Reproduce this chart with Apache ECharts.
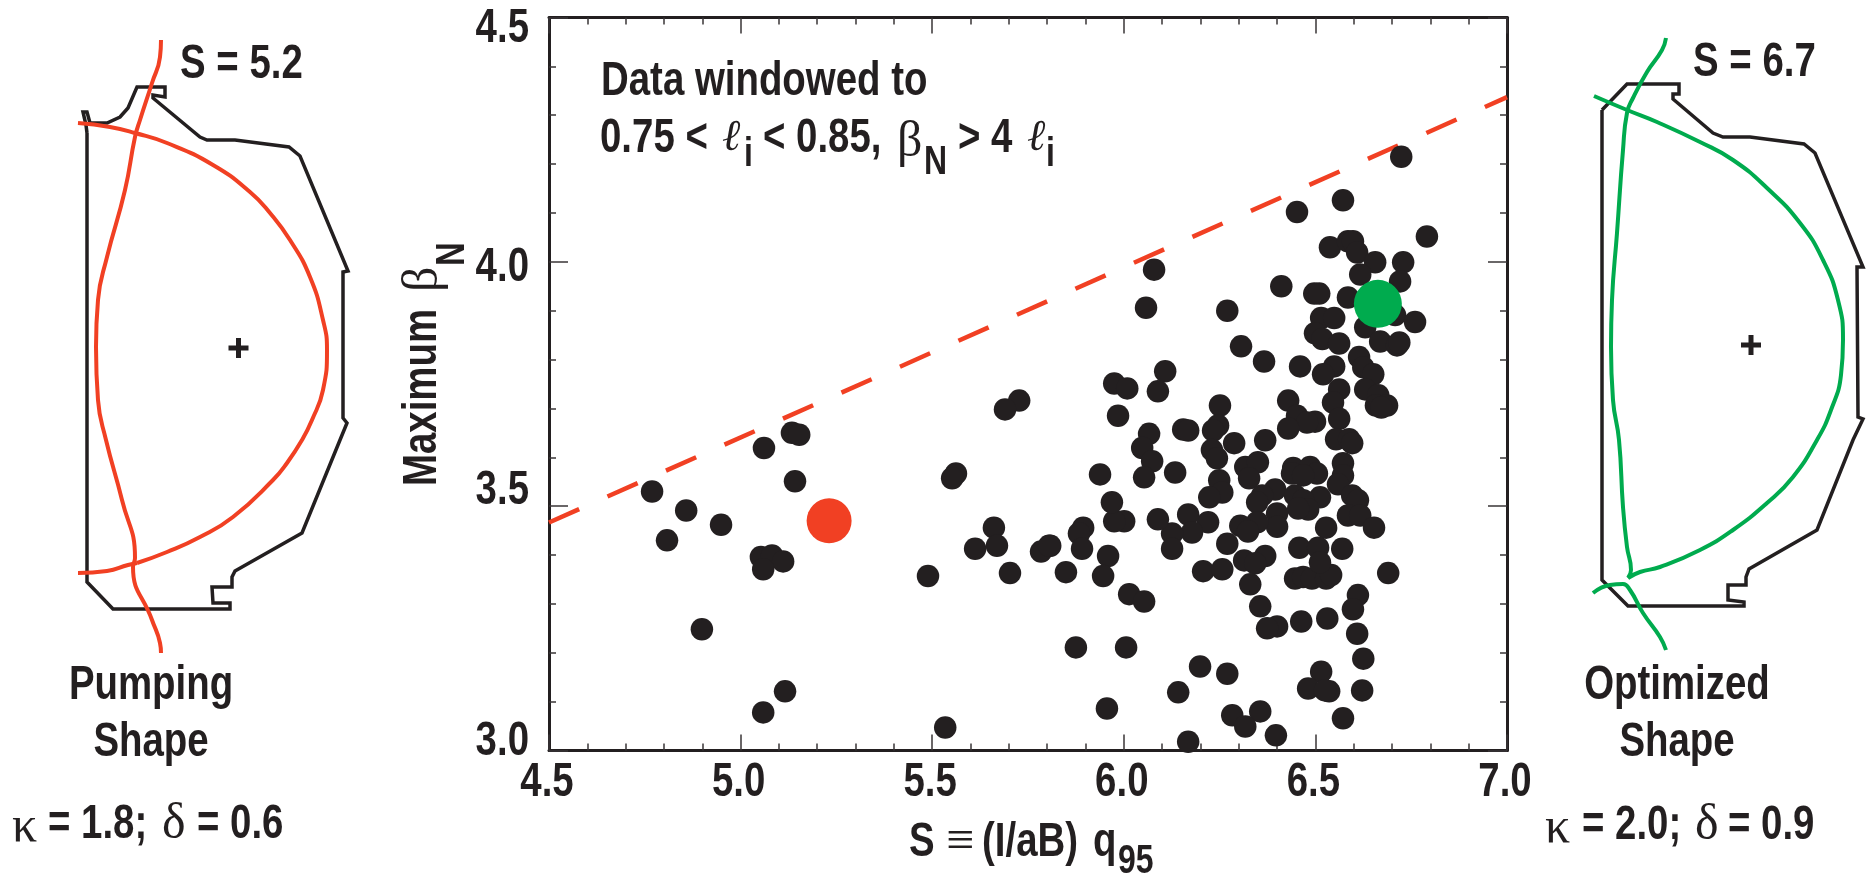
<!DOCTYPE html>
<html>
<head>
<meta charset="utf-8">
<title>Maximum beta N vs shape parameter S</title>
<script src="https://cdn.jsdelivr.net/npm/echarts@6/dist/echarts.min.js"></script>
<style>
html, body { margin: 0; padding: 0; background: #fff; }
#main { width: 1874px; height: 882px; }
</style>
</head>
<body>
<div id="main"></div>
<script>
// S, maximum beta_N
var dots = [
  [6.724,4.215],[6.572,4.126],[6.452,4.102],[6.791,4.052],[6.079,3.984],[6.538,4.030],[6.585,4.042],[6.598,4.042],
  [6.609,4.019],[6.656,3.999],[6.729,3.999],[6.617,3.974],[6.721,3.960],[6.411,3.950],[6.497,3.935],[6.510,3.935],
  [6.585,3.927],[6.058,3.906],[6.270,3.900],[6.515,3.885],[6.549,3.885],[6.708,3.891],[6.760,3.877],[6.630,3.866],
  [6.499,3.854],[6.518,3.842],[6.562,3.833],[6.669,3.837],[6.713,3.829],[6.719,3.835],[6.306,3.827],[6.366,3.796],
  [6.460,3.786],[6.614,3.805],[6.549,3.786],[6.520,3.770],[6.625,3.784],[6.651,3.770],[6.108,3.776],[5.975,3.751],
  [6.009,3.741],[6.089,3.735],[6.562,3.739],[6.630,3.739],[6.664,3.727],[6.658,3.706],[6.687,3.706],[6.672,3.702],
  [6.251,3.706],[6.429,3.716],[6.546,3.712],[6.562,3.679],[6.452,3.685],[6.499,3.673],[6.478,3.671],[6.429,3.659],
  [5.985,3.685],[6.066,3.648],[6.155,3.657],[6.168,3.655],[6.246,3.665],[6.233,3.655],[6.288,3.629],[6.369,3.635],
  [6.554,3.637],[6.588,3.637],[6.596,3.629],[6.048,3.619],[6.230,3.615],[6.074,3.592],[5.938,3.565],[6.053,3.559],
  [6.134,3.569],[6.243,3.598],[6.317,3.580],[6.350,3.590],[6.327,3.557],[6.249,3.553],[6.257,3.528],[6.223,3.518],
  [6.442,3.578],[6.486,3.580],[6.504,3.567],[6.439,3.567],[6.468,3.563],[6.572,3.588],[6.572,3.563],[6.559,3.545],
  [6.395,3.534],[6.361,3.522],[6.348,3.508],[6.447,3.522],[6.512,3.518],[6.468,3.512],[6.481,3.493],[6.455,3.495],
  [6.596,3.522],[6.611,3.512],[6.585,3.481],[6.617,3.481],[6.653,3.456],[6.528,3.456],[6.400,3.485],[6.400,3.458],
  [6.348,3.467],[6.304,3.460],[6.324,3.448],[6.220,3.467],[6.168,3.483],[6.178,3.446],[6.126,3.444],[6.089,3.473],
  [6.001,3.469],[5.975,3.469],[5.969,3.508],[5.894,3.456],[5.883,3.444],[5.891,3.413],[5.808,3.419],[5.959,3.398],
  [5.849,3.365],[5.946,3.357],[6.014,3.320],[6.053,3.305],[6.126,3.413],[6.270,3.423],[6.458,3.415],[6.507,3.415],
  [6.570,3.413],[6.314,3.389],[6.369,3.398],[6.343,3.383],[6.207,3.367],[6.257,3.371],[6.330,3.340],[6.356,3.295],
  [6.447,3.352],[6.468,3.355],[6.491,3.352],[6.528,3.352],[6.541,3.359],[6.512,3.385],[6.690,3.363],[6.611,3.318],
  [6.598,3.289],[6.531,3.270],[6.463,3.264],[6.400,3.254],[6.374,3.250],[6.609,3.239],[5.875,3.211],[6.006,3.211],
  [6.625,3.188],[6.199,3.172],[6.270,3.157],[6.515,3.161],[6.481,3.127],[6.536,3.121],[6.525,3.123],[6.142,3.119],
  [6.622,3.123],[5.956,3.086],[6.283,3.072],[6.356,3.080],[6.317,3.049],[6.397,3.031],[6.572,3.066],[6.168,3.018],
  [5.727,3.716],[5.690,3.698],[5.134,3.650],[5.153,3.646],[5.061,3.619],[5.562,3.567],[5.552,3.557],[5.142,3.551],
  [4.769,3.530],[4.858,3.491],[4.949,3.462],[4.808,3.430],[5.053,3.396],[5.082,3.399],[5.111,3.387],[5.059,3.371],
  [5.661,3.456],[5.612,3.413],[5.669,3.419],[5.489,3.357],[5.703,3.363],[5.784,3.407],[5.805,3.419],[4.899,3.248],
  [5.116,3.121],[5.059,3.078],[5.534,3.047]
];
var pumpingPoint = [[5.231, 3.470]];
var optimizedPoint = [[6.663, 3.914]];
var limitLine = [[4.5, 3.4665], [7.0, 4.337]];
var xRange = [4.5, 7.0];
var yRange = [3.0, 4.5];
var xTickLabels = [4.5, 5.0, 5.5, 6.0, 6.5, 7.0];
var yTickLabels = [3.0, 3.5, 4.0, 4.5];
var yLabelShift = [-11, -18, 3, 8.5];   // the y labels do not sit level with their ticks in the original

// vessel and plasma outlines, traced in page pixels
var wallLeft = [[87,133],[86,125],[83,112],[87,112],[90,123],[107,123],[120,117],[128,108],[137,87],[165,87],[165,97],[153,95],[153,98],[200,137],[207,140],[235,140],[289,147],[300,156],[348,271],[343,272],[343,418],[347,423],[340,440],[302,533],[235,571],[232,577],[232,587],[212,587],[213,603],[230,603],[230,609],[113,609],[87,582],[87,133]];
var plasmaLeftOuter = [[78,123],[110,127],[135,133],[167,143],[213,165],[250,192],[270,213],[290,240],[310,277],[323,320],[327,350],[323,390],[312,420],[302,440],[287,463],[273,480],[233,517],[200,537],[167,552],[137,563]];
var plasmaLeftLeg = [[137,563],[128,565],[107,571],[78,573]];
var plasmaLeftInner = [[161,40],[160,57],[152,83],[140,120],[135,137],[125,190],[107,257],[98,300],[96,347],[98,400],[106,440],[122,500],[135,558],[133,567],[152,620],[160,643],[161,653]];

var wallRight = [[1602,110],[1627,84],[1679,84],[1679,94],[1673,94],[1673,99],[1713,133],[1723,137],[1750,137],[1804,144],[1815,153],[1863,267],[1857,267],[1858,417],[1863,419],[1853,440],[1817,530],[1749,569],[1746,577],[1746,585],[1728,585],[1728,600],[1744,602],[1744,606],[1628,606],[1602,580],[1602,110]];
var plasmaRightOuter = [[1594,96],[1627,110],[1657,122],[1700,142],[1733,160],[1767,188],[1800,223],[1823,260],[1838,300],[1843,340],[1841,375],[1831,410],[1817,440],[1793,477],[1767,503],[1733,530],[1700,550],[1660,567],[1640,572],[1628,578]];
var plasmaRightInner = [[1666,38],[1662,50],[1647,72],[1633,98],[1627,113],[1623,150],[1617,233],[1612,300],[1611,347],[1613,400],[1619,440],[1623,507],[1627,547],[1631,570],[1628,578]];
var plasmaRightLeg = [[1593,593],[1610,585],[1623,584],[1630,590],[1643,613],[1660,637],[1666,650]];
var axisCentres = [[238.5,348],[1751,345]];

var INK = '#231f20', RED = '#f14023', GREEN = '#00ab4e';
var SANS = '"Liberation Sans", sans-serif';
var SERIF = '"Liberation Serif", "DejaVu Serif", serif';

// no narrow font on the box, so squeeze the bold sans
function txt(str, x, y, opts) {
  opts = opts || {};
  var serif = opts.family === SERIF;
  return {
    type: 'text',
    x: opts.rot ? x + 2.5 : x,      // 'middle' sits a little high for capitals
    y: opts.rot ? y : y + 2.5,
    rotation: opts.rot || 0, z: 20,
    scaleX: opts.scale || (serif ? 1 : 0.8),
    style: {
      text: str, fill: INK,
      fontFamily: opts.family || SANS,
      fontWeight: opts.weight || 'bold',
      fontSize: opts.size || 48,
      fontStyle: opts.italic ? 'italic' : 'normal',
      align: opts.align || 'left',
      verticalAlign: 'middle'
    }
  };
}
var greek = { family: SERIF, weight: 'normal', size: 50 };
var ell = { family: SERIF, weight: 'normal', italic: true, size: 44 };
var sub = { size: 40 };
var up = Math.PI / 2;

var labels = [
  txt('S = 5.2', 180, 62),
  txt('S = 6.7', 1693, 60),
  txt('Pumping', 151, 683, { align: 'center' }),
  txt('Shape', 151, 740, { align: 'center' }),
  txt('Optimized', 1677, 683, { align: 'center' }),
  txt('Shape', 1677, 740, { align: 'center' }),
  txt('κ', 12, 825, greek), txt('= 1.8;', 48, 822), txt('δ', 162, 822, greek), txt('= 0.6', 197, 822),
  txt('κ', 1545, 826, greek), txt('= 2.0;', 1582, 823), txt('δ', 1695, 823, greek), txt('= 0.9', 1728, 823),
  txt('Data windowed to', 601, 79),
  txt('0.75 <', 600, 136), txt('ℓ', 722, 136, ell), txt('i', 744, 152, sub), txt('< 0.85,', 763, 136),
  txt('β', 897, 140, greek), txt('N', 924, 160, sub), txt('> 4', 958, 136), txt('ℓ', 1027, 136, ell), txt('i', 1046, 152, sub),
  txt('S', 909, 840), txt('≡', 946, 840, { family: SERIF, weight: 'normal', size: 50 }), txt('(I/aB)', 982, 840), txt('q', 1093, 840),
  txt('95', 1118, 859, sub),
  txt('Maximum', 420, 486, { rot: up }), txt('β', 421, 292, { rot: up, family: SERIF, weight: 'normal', size: 50 }),
  txt('N', 450, 266, { rot: up, size: 41 })
];

function outline(data, color, width, smooth) {
  return {
    type: 'line', xAxisIndex: 2, yAxisIndex: 2, data: data, symbol: 'none', smooth: smooth ? 0.5 : false,
    lineStyle: { color: color, width: width, join: 'miter' }, z: 3, silent: true
  };
}

function frameAxis(position, range, majorLen) {
  return {
    type: 'value', gridIndex: 0, min: range[0], max: range[1], interval: 0.5, position: position,
    axisLine: { lineStyle: { color: INK, width: 3 } },
    axisTick: { inside: true, length: majorLen, lineStyle: { color: '#3a3637', width: 1.5 } },
    minorTick: { show: true, splitNumber: 5, length: 7, lineStyle: { color: '#3a3637', width: 1.5 } },
    splitLine: { show: false },
    axisLabel: { show: false }
  };
}

var option = {
  animation: false,
  backgroundColor: '#fff',
  grid: [
    { left: 549, top: 17.5, width: 958, height: 733 },
    { left: 0, top: 0, width: 1874, height: 882 }
  ],
  xAxis: [
    frameAxis('bottom', xRange, 16),
    frameAxis('top', xRange, 16),
    { type: 'value', gridIndex: 1, min: 0, max: 1874, show: false, splitLine: { show: false } }
  ],
  yAxis: [
    frameAxis('left', yRange, 19),
    frameAxis('right', yRange, 19),
    { type: 'value', gridIndex: 1, min: 0, max: 882, inverse: true, show: false, splitLine: { show: false } }
  ],
  series: [
    {
      name: 'limit', type: 'line', data: limitLine, symbol: 'none', z: 4,
      lineStyle: { color: RED, width: 4.5, type: [33, 31] }
    },
    {
      name: 'shots', type: 'scatter', data: dots, symbolSize: 22.5, z: 5,
      itemStyle: { color: INK, opacity: 1 }
    },
    {
      name: 'pumping', type: 'scatter', data: pumpingPoint, symbolSize: 45, z: 6,
      itemStyle: { color: RED, opacity: 1 }
    },
    {
      name: 'optimized', type: 'scatter', data: optimizedPoint, symbolSize: 48, z: 6,
      itemStyle: { color: GREEN, opacity: 1 }
    },
    outline(wallLeft, INK, 3.5, false),
    outline(wallRight, INK, 3.5, false),
    outline(plasmaLeftOuter, RED, 4, true),
    outline(plasmaLeftLeg, RED, 4, true),
    outline(plasmaLeftInner, RED, 4, true),
    outline(plasmaRightOuter, GREEN, 4, true),
    outline(plasmaRightInner, GREEN, 4, true),
    outline(plasmaRightLeg, GREEN, 4, true),
    {
      type: 'scatter', xAxisIndex: 2, yAxisIndex: 2, data: axisCentres, z: 3, symbolSize: 20,
      symbol: 'path://M7.5 0H12.5V7.5H20V12.5H12.5V20H7.5V12.5H0V7.5H7.5Z',
      itemStyle: { color: INK, opacity: 1 }
    }
  ]
};

var chart = echarts.init(document.getElementById('main'), null, { renderer: 'canvas' });
chart.setOption(option);

// tick labels go through graphic too, axisLabel has no way to squeeze text
xTickLabels.forEach(function (v) {
  labels.push(txt(v.toFixed(1), chart.convertToPixel({ xAxisIndex: 0 }, v) - 2, 780, { align: 'center' }));
});
yTickLabels.forEach(function (v, i) {
  labels.push(txt(v.toFixed(1), 529, chart.convertToPixel({ yAxisIndex: 0 }, v) + yLabelShift[i], { align: 'right' }));
});
chart.setOption({ graphic: { elements: labels } });
</script>
</body>
</html>
